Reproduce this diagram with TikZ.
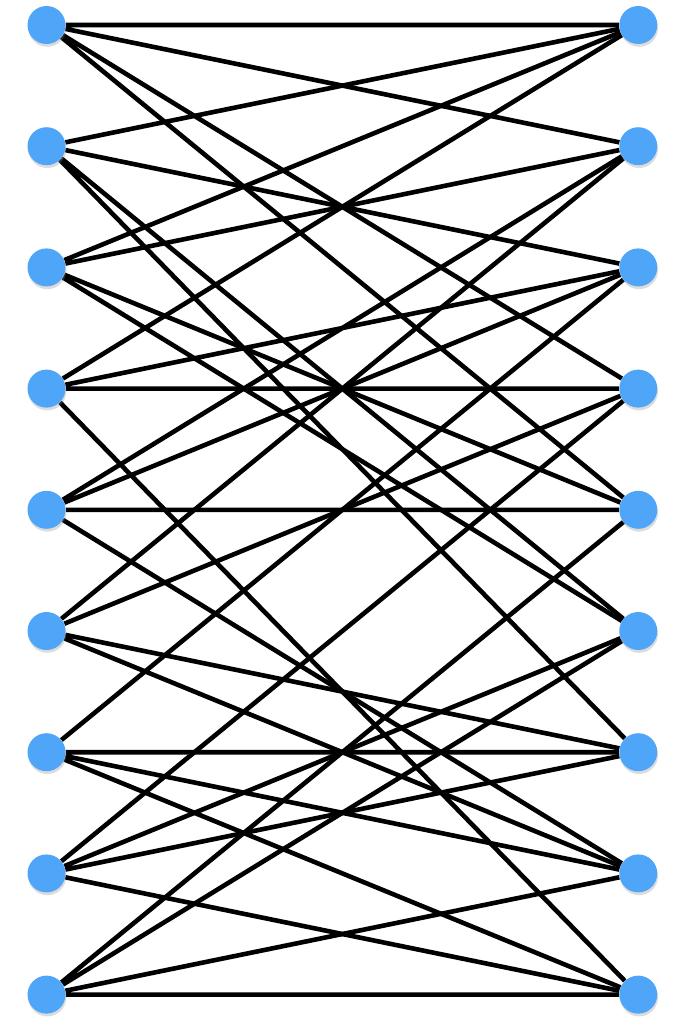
\documentclass[tikz,border=0pt]{standalone}
\usetikzlibrary{positioning, backgrounds, shadows}
\definecolor{nodeblue}{HTML}{4FA5F8}

\begin{document}
\begin{tikzpicture}[
    vertex/.style={circle, fill=nodeblue, minimum size=0.95cm, inner sep=0pt,
                   drop shadow={opacity=0.3, fill=black!45, shadow xshift=0.02cm, shadow yshift=-0.07cm}},
    edge/.style={line width=0.115cm, black},
    node distance=2.066cm
  ]
    \useasboundingbox (-1.1625,0.625) rectangle (15.7125,-24.8);
    % left column
    \node[vertex] (l1) at (0,0) {};
    \node[vertex, below=of l1] (l2) {};
    \node[vertex, below=of l2] (l3) {};
    \node[vertex, below=of l3] (l4) {};
    \node[vertex, below=of l4] (l5) {};
    \node[vertex, below=of l5] (l6) {};
    \node[vertex, below=of l6] (l7) {};
    \node[vertex, below=of l7] (l8) {};
    \node[vertex, below=of l8] (l9) {};
    % right column
    \node[vertex, right=13.83cm of l1] (r1) {};
    \node[vertex, below=of r1] (r2) {};
    \node[vertex, below=of r2] (r3) {};
    \node[vertex, below=of r3] (r4) {};
    \node[vertex, below=of r4] (r5) {};
    \node[vertex, below=of r5] (r6) {};
    \node[vertex, below=of r6] (r7) {};
    \node[vertex, below=of r7] (r8) {};
    \node[vertex, below=of r8] (r9) {};
    \begin{scope}[on background layer]
      \draw[edge] (l1) -- (r1) (l1) -- (r2) (l1) -- (r4) (l1) -- (r5);
      \draw[edge] (l2) -- (r1) (l2) -- (r3) (l2) -- (r6) (l2) -- (r7);
      \draw[edge] (l3) -- (r1) (l3) -- (r2) (l3) -- (r5) (l3) -- (r6);
      \draw[edge] (l4) -- (r1) (l4) -- (r3) (l4) -- (r4) (l4) -- (r9);
      \draw[edge] (l5) -- (r2) (l5) -- (r3) (l5) -- (r5) (l5) -- (r8);
      \draw[edge] (l6) -- (r2) (l6) -- (r4) (l6) -- (r7) (l6) -- (r8);
      \draw[edge] (l7) -- (r3) (l7) -- (r7) (l7) -- (r8) (l7) -- (r9);
      \draw[edge] (l8) -- (r4) (l8) -- (r6) (l8) -- (r7) (l8) -- (r9);
      \draw[edge] (l9) -- (r5) (l9) -- (r6) (l9) -- (r8) (l9) -- (r9);
    \end{scope}
  \end{tikzpicture}
\end{document}
